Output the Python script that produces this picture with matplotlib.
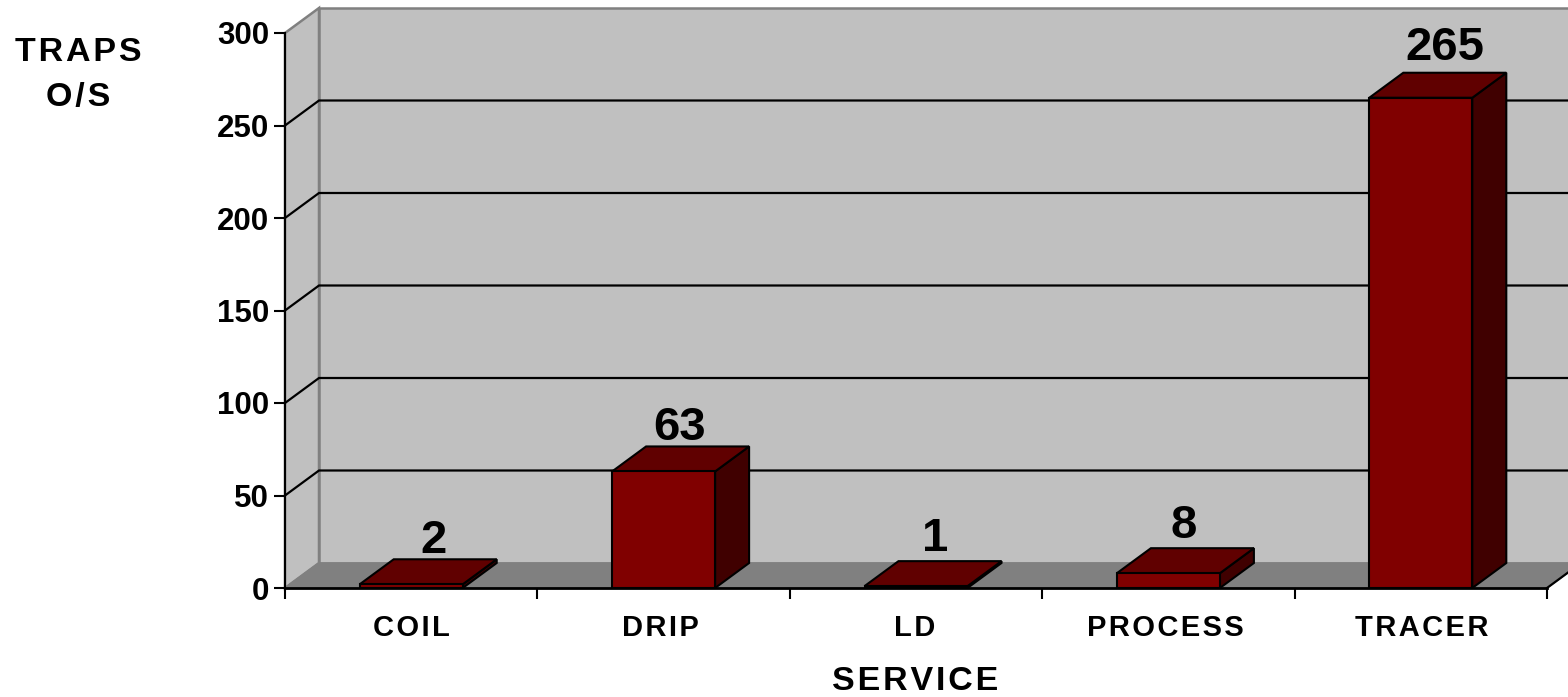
import matplotlib
matplotlib.use("Agg")
import matplotlib.pyplot as plt
from matplotlib.patches import Polygon

plt.rcParams['font.family'] = ['Liberation Sans', 'DejaVu Sans']
plt.rcParams['font.weight'] = 'bold'

categories = ["COIL", "DRIP", "LD", "PROCESS", "TRACER"]
values = [2, 63, 1, 8, 265]
yticks = [0, 50, 100, 150, 200, 250, 300]
x_title = "SERVICE"
y_title = "TRAPS\nO/S"

# small per-label nudges, pixels
value_nudge = [(0, -2), (-6, -2), (-3, 2), (-7, 2), (2, 4)]
cat_nudge = [0, -3, -1, -3, 1]


def spaced(s):
    return "\u200a".join(s)


W, H = 1568, 697
L, R, T, B = 285, 1547, 33, 588      # front plane, pixels
DX_PX, DY_PX = 34, 25                # 3-D depth, pixels
BAR_W = 103 / 252.4

fig = plt.figure(figsize=(W / 100, H / 100), dpi=100, facecolor="white")
ax = fig.add_axes([L / W, 1 - B / H, (R - L) / W, (B - T) / H])
ax.set_xlim(-0.5, len(categories) - 0.5)
ax.set_ylim(0, yticks[-1])
ax.patch.set_visible(False)
for s in ax.spines.values():
    s.set_visible(False)

dx = DX_PX * (len(categories)) / (R - L)
dy = DY_PX * yticks[-1] / (B - T)
x0, x1 = ax.get_xlim()
ymax = yticks[-1]


def poly(pts, fc, ec, lw=1.6, z=1):
    ax.add_patch(Polygon(pts, closed=True, facecolor=fc, edgecolor=ec, linewidth=lw,
                         zorder=z, clip_on=False, joinstyle="miter"))


# walls and floor
poly([(x0, 0), (x0 + dx, dy), (x0 + dx, ymax + dy), (x0, ymax)], "#C0C0C0", "#808080", 1.8, 1)
poly([(x0 + dx, dy), (x1 + dx, dy), (x1 + dx, ymax + dy), (x0 + dx, ymax + dy)], "#C0C0C0", "#808080", 1.8, 1)
poly([(x0, 0), (x1, 0), (x1 + dx, dy), (x0 + dx, dy)], "#808080", "#808080", 1.0, 1)

# gridlines
for v in yticks[1:-1]:
    ax.plot([x0, x0 + dx, x1 + dx], [v, v + dy, v + dy], color="black", lw=1.6, zorder=2,
            clip_on=False, solid_joinstyle="miter")
ax.plot([x1, x1 + dx], [0, dy], color="black", lw=1.6, zorder=2, clip_on=False)
ax.plot([x0, x0 + dx], [0, dy], color="#808080", lw=1.0, zorder=2, clip_on=False)

# bars
for i, v in enumerate(values):
    l, r = i - BAR_W / 2, i + BAR_W / 2
    poly([(r, 0), (r + dx, dy), (r + dx, v + dy), (r, v)], "#400000", "black", 1.5, 3)
    poly([(l, v), (r, v), (r + dx, v + dy), (l + dx, v + dy)], "#600000", "black", 1.5, 3)
    poly([(l, 0), (r, 0), (r, v), (l, v)], "#800000", "black", 1.5, 3)
    nx, ny = value_nudge[i]
    ax.annotate(str(v), (i, v), xytext=(DX_PX * 0.65 + nx, 23.5 + ny), textcoords="offset pixels",
                ha="center", va="bottom", fontsize=34, fontweight="bold", zorder=5,
                annotation_clip=False)

# axes lines and ticks
ax.plot([x0, x0], [0, ymax], color="black", lw=1.5, zorder=4, clip_on=False)
ax.plot([x0, x1], [0, 0], color="black", lw=2, zorder=4, clip_on=False)
ax.set_yticks(yticks)
ax.set_yticklabels([str(v) for v in yticks], fontsize=22.5, fontweight="bold")
ax.set_xticks([i - 0.5 for i in range(len(categories) + 1)])
ax.set_xticklabels([])
ax.tick_params(axis="both", length=8, width=1.5, color="black", pad=2)
ax.tick_params(axis="y", pad=3.5)

for i, c in enumerate(categories):
    ax.annotate(spaced(c), (i, 0), xytext=(cat_nudge[i], -40), textcoords="offset pixels", ha="center",
                va="center", fontsize=21, fontweight="bold", annotation_clip=False)

fig.text(915 / W, 1 - 682 / H, spaced(x_title), ha="center", va="center", fontsize=24.5, fontweight="bold")
fig.text(78 / W, 1 - 75 / H, "\n".join(spaced(s) for s in y_title.split("\n")), ha="center", va="center",
         fontsize=24.5, fontweight="bold", linespacing=1.58)

fig.savefig("out.png", dpi=100)
